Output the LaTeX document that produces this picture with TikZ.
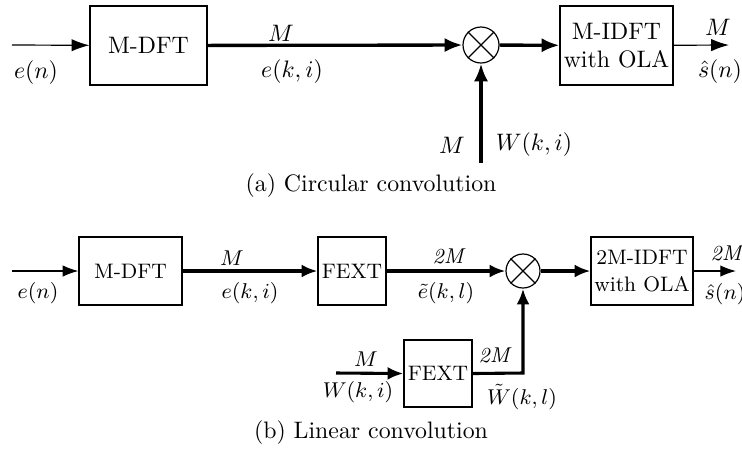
\documentclass[tikz,border=0pt]{standalone}
\usetikzlibrary{arrows.meta}
\newdimen\px \px=0.42pt
\begin{document}
\begin{tikzpicture}[x=0.42pt,y=-0.42pt,
  blk/.style={draw,line width=0.5pt,inner sep=0pt,align=center},
  blka/.style={blk,font=\fontsize{10}{12}\selectfont},
  blkb/.style={blk,font=\fontsize{8.8}{11}\selectfont},
  mult/.style={draw,circle,line width=0.5pt,inner sep=0pt},
  thin/.style={line width=0.5pt,-{Latex[length=7.5pt,width=5.2pt]}},
  thick/.style={line width=1.4pt,-{Latex[length=7.5pt,width=6pt]}},
  thinb/.style={line width=0.5pt,-{Latex[length=6.6pt,width=4.8pt]}},
  thickb/.style={line width=1.3pt,-{Latex[length=6.6pt,width=5.4pt]}},
  la/.style={font=\fontsize{10}{12}\selectfont,inner sep=0pt},
  lb/.style={font=\fontsize{8.8}{11}\selectfont,inner sep=0pt},
  lc/.style={font=\fontsize{9}{11}\selectfont\itshape,inner sep=0pt}]
\useasboundingbox (0,0) rectangle (742,448);
% ---- (a)
\coordinate (in1) at (12,45);
\coordinate (out1) at (729,45);
\coordinate (wb) at (481,163);
\node[blka,minimum width=117\px,minimum height=79\px] (dft1) at (148.5,45.5) {M-DFT};
\node[mult,minimum size=36\px] (c1) at (481,45) {};
\draw[line width=0.5pt] (c1.45) -- (c1.225) (c1.135) -- (c1.-45);
\node[blka,minimum width=113\px,minimum height=79\px] (idft1) at (616.5,45.5) {M-IDFT\\with OLA};
\draw[thin] (in1) -- (dft1);
\draw[thick] (dft1) -- (c1);
\draw[thick] (c1) -- (idft1);
\draw[thin] (idft1) -- (out1);
\draw[thick] (wb) -- (c1);
\node[la] (l1) at (36,73) {$e(n)$};
\node[la] (l2) at (281,33) {$M$};
\node[la] (l3) at (292,72) {$e(k,i)$};
\node[la] (l4) at (718,27) {$M$};
\node[la] (l5) at (720,72) {$\hat{s}(n)$};
\node[la] (l6) at (452,145) {$M$};
\node[la] (l7) at (534,145) {$W(k,i)$};
\node[la] (capa) at (371,186) {(a) Circular convolution};
% ---- (b)
\coordinate (in2) at (12,271);
\coordinate (out2) at (736,271);
\coordinate (win) at (336,373);
\coordinate (corner) at (523,373);
\node[blkb,minimum width=103\px,minimum height=68\px] (dft2) at (130.5,271) {M-DFT};
\node[blkb,minimum width=68\px,minimum height=68\px] (fx1) at (352,271) {FEXT};
\node[mult,minimum size=34\px] (c2) at (523,271) {};
\draw[line width=0.5pt] (c2.45) -- (c2.225) (c2.135) -- (c2.-45);
\node[blkb,minimum width=102\px,minimum height=68\px] (idft2) at (642,271) {2M-IDFT\\with OLA};
\node[blkb,minimum width=68\px,minimum height=67\px] (fx2) at (438,373.5) {FEXT};
\draw[thinb] (in2) -- (dft2);
\draw[thickb] (dft2) -- (fx1);
\draw[thickb] (fx1) -- (c2);
\draw[thickb] (c2) -- (idft2);
\draw[thinb] (idft2) -- (out2);
\draw[thickb] (win) -- (fx2.west);
\draw[thickb] (fx2.east) -- (corner) -- (c2.south);
\node[lb] (m1) at (38,293) {$e(n)$};
\node[lb] (m2) at (232,258) {$M$};
\node[lb] (m3) at (250,293) {$e(k,i)$};
\node[lc] (m4) at (448,256) {2M};
\node[lb] (m5) at (446,293) {$\tilde{e}(k,l)$};
\node[lc] (m6) at (726,253) {2M};
\node[lb] (m7) at (725,294) {$\hat{s}(n)$};
\node[lb] (m8) at (366,359) {$M$};
\node[lb] (m9) at (358,392) {$W(k,i)$};
\node[lc] (m10) at (494,355) {2M};
\node[lb] (m11) at (522,397) {$\tilde{W}(k,l)$};
\node[la] (capb) at (371,433) {(b) Linear convolution};
\end{tikzpicture}
\end{document}
